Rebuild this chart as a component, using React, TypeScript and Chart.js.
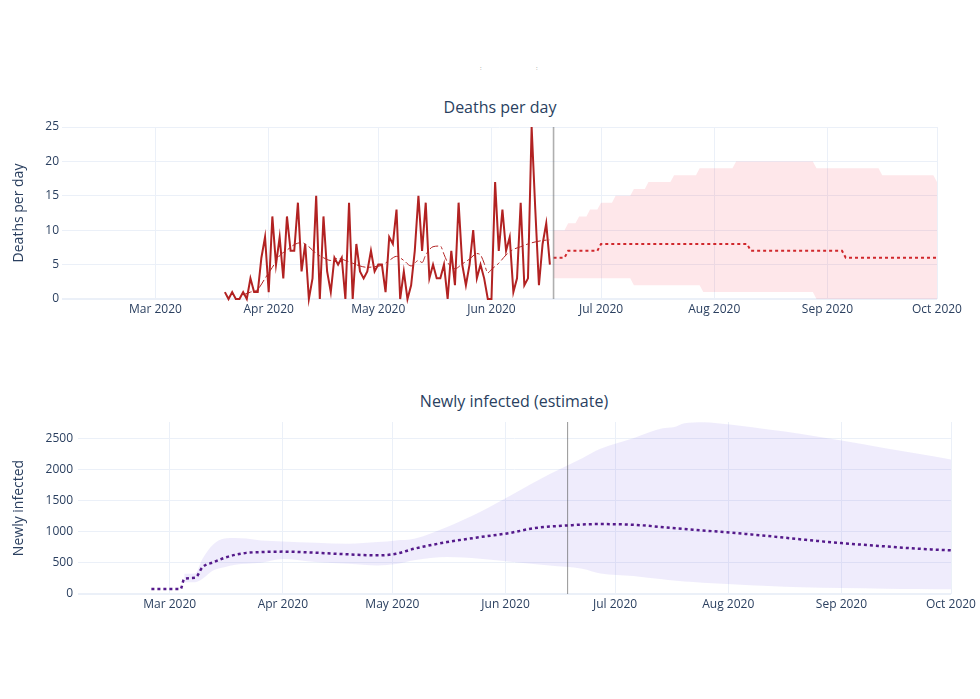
import React, { useEffect, useRef } from 'react';
import { Chart, registerables } from 'chart.js';

Chart.register(...registerables);

const FONT = '"Open Sans", verdana, arial, sans-serif';
const TEXT = '#2a3f5f';
const GRID = '#ebf0f8';

// x values are days counted from 1 Mar 2020
const monthTickDays = [0, 31, 61, 92, 122, 153, 184, 214];
const monthTickLabels = ['Mar 2020', 'Apr 2020', 'May 2020', 'Jun 2020', 'Jul 2020', 'Aug 2020', 'Sep 2020', 'Oct 2020'];
const nowDay = 109; // 18 Jun 2020

// ---- Deaths per day ----
const deathsStartDay = 19; // 20 Mar 2020
const deathsPerDay = [
  1, 0, 1, 0, 0, 1, 0, 3, 1, 1,
  6, 9, 1, 12, 5, 9, 3, 12, 7, 7,
  14, 4, 8, 0, 3, 15, 0, 12, 4, 1,
  6, 5, 6, 0, 14, 0, 8, 4, 3, 4,
  7, 4, 5, 5, 1, 9, 8, 13, 0, 4,
  0, 2, 7, 15, 7, 14, 3, 5, 3, 3,
  5, 0, 7, 2, 14, 5, 2, 5, 10, 3,
  5, 3, 0, 0, 17, 7, 13, 7, 9, 1,
  3, 14, 2, 3, 25, 13, 2, 8, 11, 5,
];
const avgDays = [24, 26, 28, 30, 32, 34, 36, 38, 40, 42, 44, 46, 48, 50, 52, 54, 56, 58, 60, 62, 64, 66, 68, 70, 72, 73, 74, 76, 78, 79, 80, 82, 84, 86, 88, 89, 90, 91, 92, 94, 96, 98, 100, 102, 104, 106, 108];
const avgValues = [0.6, 1.0, 1.4, 3.0, 4.6, 6.3, 7.1, 7.9, 8.2, 7.6, 6.6, 6.0, 5.6, 5.9, 5.6, 5.2, 4.8, 4.6, 4.7, 4.9, 5.6, 6.2, 5.6, 4.8, 5.6, 5.3, 6.4, 7.6, 7.7, 6.5, 5.3, 4.4, 5.1, 5.8, 6.6, 6.4, 5.2, 3.8, 4.3, 5.2, 6.4, 7.2, 7.6, 8.0, 8.3, 8.5, 8.6];
const forecastEndDay = 214;
const forecastRunStarts = [109, 113, 122, 163, 189];
const forecastRunLevels = [6, 7, 8, 7, 6];
const upperRunStarts = [109, 113, 116, 119, 122, 126, 131, 135, 142, 149, 159, 181, 199, 214];
const upperRunLevels = [10, 11, 12, 13, 14, 15, 16, 17, 18, 19, 20, 19, 18, 17];
const lowerRunStarts = [109, 131, 150, 181];
const lowerRunLevels = [3, 2, 1, 0];
const deathTicks = [0, 5, 10, 15, 20, 25];

// ---- Newly infected ----
const infectedDays = [-5, 3, 4, 7, 9, 12, 15, 18, 21, 25, 31, 40, 49, 57, 62, 67, 76, 85, 93, 100, 109, 117, 127, 137, 146, 154, 164, 173, 184, 196, 205, 214];
const infectedMean = [80, 80, 245, 260, 430, 510, 580, 630, 660, 673, 680, 662, 636, 620, 646, 727, 833, 913, 978, 1058, 1100, 1122, 1111, 1063, 1020, 983, 930, 876, 817, 764, 727, 700];
const bandDays = [4, 7, 9, 12, 15, 18, 21, 25, 31, 40, 49, 57, 62, 67, 76, 85, 94, 104, 113, 118, 127, 135, 138, 141, 146, 154, 164, 173, 184, 196, 205, 214];
const infectedUpper = [325, 330, 565, 800, 890, 900, 890, 860, 844, 823, 807, 833, 860, 887, 1074, 1314, 1600, 1920, 2180, 2330, 2500, 2660, 2676, 2740, 2756, 2714, 2639, 2569, 2463, 2340, 2249, 2158];
const infectedLower = [190, 190, 245, 380, 430, 470, 485, 500, 560, 513, 486, 459, 480, 540, 593, 566, 513, 459, 406, 330, 290, 235, 215, 200, 182, 155, 128, 107, 96, 85, 80, 75];
const infectedTicks = [0, 500, 1000, 1500, 2000, 2500];

function expandRuns(starts: number[], levels: number[], from: number, to: number) {
  const pts: { x: number; y: number }[] = [];
  for (let d = from; d <= to; d++) {
    let v = levels[0];
    for (let i = 0; i < starts.length; i++) if (starts[i] <= d) v = levels[i];
    pts.push({ x: d, y: v });
  }
  return pts;
}
const zip = (xs: number[], ys: number[]) => xs.map((x, i) => ({ x, y: ys[i] }));

function nowLine(color: string, width: number) {
  return {
    id: 'nowLine',
    afterDatasetsDraw(chart: any) {
      const { ctx, chartArea, scales } = chart;
      const x = scales.x.getPixelForValue(nowDay);
      ctx.save();
      ctx.strokeStyle = color;
      ctx.lineWidth = width;
      ctx.beginPath();
      ctx.moveTo(x, chartArea.top);
      ctx.lineTo(x, chartArea.bottom);
      ctx.stroke();
      ctx.restore();
    },
  };
}

function xAxis(min: number, height: number) {
  return {
    type: 'linear',
    min,
    max: 214,
    afterBuildTicks: (s: any) => {
      s.ticks = monthTickDays.map((v) => ({ value: v }));
    },
    afterFit: (s: any) => {
      s.height = height;
    },
    ticks: {
      autoSkip: false,
      maxRotation: 0,
      padding: 3,
      color: TEXT,
      font: { size: 12, family: FONT },
      callback: (v: any) => {
        const i = monthTickDays.indexOf(Number(v));
        return i >= 0 ? monthTickLabels[i] : '';
      },
    },
    grid: { color: GRID, drawTicks: false, lineWidth: 1 },
    border: { display: false },
  };
}

function yAxis(max: number, ticks: number[], width: number, label: string, pad: number) {
  return {
    type: 'linear',
    min: 0,
    max,
    afterBuildTicks: (s: any) => {
      s.ticks = ticks.map((v) => ({ value: v }));
    },
    afterFit: (s: any) => {
      s.width = width;
    },
    ticks: {
      padding: pad,
      color: TEXT,
      font: { size: 12, family: FONT },
      callback: (v: any) => String(v),
    },
    grid: {
      color: GRID,
      drawTicks: false,
      lineWidth: (c: any) => (c.tick && c.tick.value === 0 ? 2 : 1),
    },
    border: { display: false },
    title: {
      display: true,
      text: label,
      color: TEXT,
      font: { size: 14, family: FONT },
      padding: { top: 11, bottom: 0 },
    },
  };
}

const commonPlugins = { legend: { display: false }, tooltip: { enabled: false } };

function deathsConfig(): any {
  return {
    type: 'line',
    data: {
      datasets: [
        {
          data: expandRuns(lowerRunStarts, lowerRunLevels, nowDay, forecastEndDay),
          borderWidth: 0,
          borderColor: 'transparent',
          pointRadius: 0,
          fill: false,
          order: 5,
        },
        {
          data: expandRuns(upperRunStarts, upperRunLevels, nowDay, forecastEndDay),
          borderWidth: 0,
          borderColor: 'transparent',
          pointRadius: 0,
          fill: '-1',
          backgroundColor: 'rgba(245,60,80,0.12)',
          order: 4,
        },
        {
          data: deathsPerDay.map((v, i) => ({ x: deathsStartDay + i, y: v })),
          borderColor: '#b22222',
          borderWidth: 2,
          pointRadius: 0,
          fill: false,
          clip: false,
          order: 3,
        },
        {
          data: zip(avgDays, avgValues),
          borderColor: '#b22222',
          borderWidth: 1,
          borderDash: [9, 3, 3, 3],
          pointRadius: 0,
          fill: false,
          cubicInterpolationMode: 'monotone',
          order: 2,
        },
        {
          data: expandRuns(forecastRunStarts, forecastRunLevels, nowDay, forecastEndDay),
          borderColor: '#d0282c',
          borderWidth: 2,
          borderDash: [3, 3],
          pointRadius: 0,
          fill: false,
          order: 1,
        },
      ],
    },
    options: {
      animation: false,
      responsive: false,
      events: [],
      layout: { padding: { left: 0, right: 43, top: 27, bottom: 0 } },
      scales: {
        x: xAxis(-25.6, 31),
        y: yAxis(25, deathTicks, 62, 'Deaths per day', 3),
      },
      plugins: commonPlugins,
    },
    plugins: [nowLine('rgba(110,110,110,0.55)', 1.6)],
  };
}

function infectedConfig(): any {
  return {
    type: 'line',
    data: {
      datasets: [
        {
          data: zip(bandDays, infectedLower),
          borderWidth: 0,
          borderColor: 'transparent',
          pointRadius: 0,
          fill: false,
          cubicInterpolationMode: 'monotone',
          order: 3,
        },
        {
          data: zip(bandDays, infectedUpper),
          borderWidth: 0,
          borderColor: 'transparent',
          pointRadius: 0,
          fill: '-1',
          backgroundColor: 'rgba(100,70,230,0.1)',
          cubicInterpolationMode: 'monotone',
          order: 2,
        },
        {
          data: zip(infectedDays, infectedMean),
          borderColor: '#551a8b',
          borderWidth: 2.5,
          borderDash: [3, 3],
          pointRadius: 0,
          fill: false,
          cubicInterpolationMode: 'monotone',
          order: 1,
        },
      ],
    },
    options: {
      animation: false,
      responsive: false,
      events: [],
      layout: { padding: { left: 0, right: 29, top: 30, bottom: 0 } },
      scales: {
        x: xAxis(-25.1, 38),
        y: yAxis(2760, infectedTicks, 78, 'Newly infected', 5),
      },
      plugins: commonPlugins,
    },
    plugins: [nowLine('rgba(80,80,80,0.6)', 1)],
  };
}

function ChartCanvas(props: { make: () => any; top: number; width: number; height: number }) {
  const ref = useRef<HTMLCanvasElement | null>(null);
  useEffect(() => {
    if (!ref.current) return;
    const chart = new Chart(ref.current, props.make());
    return () => chart.destroy();
  }, []);
  return (
    <canvas
      ref={ref}
      width={props.width}
      height={props.height}
      style={{ position: 'absolute', left: 0, top: props.top, width: props.width, height: props.height }}
    />
  );
}

const titleStyle: React.CSSProperties = {
  position: 'absolute',
  transform: 'translateX(-50%)',
  fontFamily: FONT,
  fontSize: 16,
  lineHeight: '20px',
  color: TEXT,
  whiteSpace: 'nowrap',
};

export default function App() {
  return (
    <div
      style={{
        position: 'absolute',
        left: 0,
        top: 0,
        width: 980,
        height: 699,
        background: '#ffffff',
        fontFamily: FONT,
      }}
    >
      <span style={{ position: 'absolute', left: 480, top: 64, fontSize: 6, color: '#888' }}>:</span>
      <span style={{ position: 'absolute', left: 536, top: 64, fontSize: 6, color: '#888' }}>:</span>
      <div style={{ ...titleStyle, left: 500, top: 97 }}>Deaths per day</div>
      <div style={{ ...titleStyle, left: 514, top: 391 }}>Newly infected (estimate)</div>
      <ChartCanvas make={deathsConfig} top={100} width={980} height={230} />
      <ChartCanvas make={infectedConfig} top={392} width={980} height={240} />
    </div>
  );
}
